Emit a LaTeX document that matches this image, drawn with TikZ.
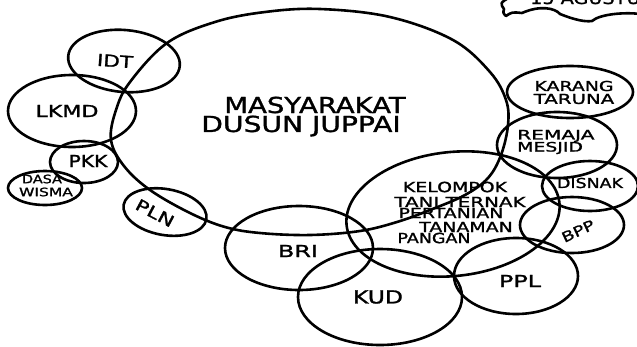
\documentclass[tikz,border=0pt]{standalone}
\usepackage{fontspec}
\setmainfont{DejaVu Sans}[FakeBold=1.3]
\usepackage{graphicx}
\newcommand\wide[2][1.35]{\scalebox{#1}[1]{#2}}

\begin{document}
\begin{tikzpicture}[x=1pt,y=-1pt,
  ring/.style={line width=2.6pt,line join=round,line cap=round},
  lab/.style={font=\fontsize{#1}{#1}\selectfont,inner sep=0pt},
  lab/.default=14]
\useasboundingbox (0,0) rectangle (637,346);
\clip (0,0) rectangle (637,346);
% centres of the rings
\coordinate (idt) at (124,61);
\coordinate (lkmd) at (72,111);
\coordinate (pkk) at (84,162);
\coordinate (dasa) at (45,188);
\coordinate (pln) at (165,212);
\coordinate (bri) at (299,248);
\coordinate (kud) at (380,297);
\coordinate (kel) at (453,214);
\coordinate (ppl) at (516,276);
\coordinate (bpp) at (572,225);
\coordinate (disnak) at (590,186);
\coordinate (remaja) at (557,145);
\coordinate (karang) at (570,92);
% the village
\draw[ring] plot[smooth cycle,tension=0.6] coordinates {
  (320,9) (390,17) (453,40) (490,72) (506,100) (508,125) (501,155)
  (488,178) (465,195) (430,210) (397,222) (360,231) (310,235) (260,233)
  (225,227) (190,213) (150,190) (124,166) (111,140) (116,110) (130,82)
  (167,43) (215,22) (265,12)};
% the groups round it
\draw[ring,rotate around={-5:(idt)}] (idt) ellipse [x radius=56pt,y radius=31pt];
\draw[ring] (lkmd) ellipse [x radius=64pt,y radius=36pt];
\draw[ring] (pkk) ellipse [x radius=34pt,y radius=21pt];
\draw[ring] (dasa) ellipse [x radius=37pt,y radius=17pt];
\draw[ring,rotate around={-10:(pln)}] (pln) ellipse [x radius=42pt,y radius=23pt];
\draw[ring] (bri) ellipse [x radius=74pt,y radius=42pt];
\draw[ring] (kud) ellipse [x radius=82pt,y radius=48pt];
\draw[ring,rotate around={6:(kel)}] (kel) ellipse [x radius=107pt,y radius=62pt];
\draw[ring] (ppl) ellipse [x radius=62pt,y radius=38pt];
\draw[ring] (bpp) ellipse [x radius=52pt,y radius=28pt];
\draw[ring] (disnak) ellipse [x radius=48pt,y radius=25pt];
\draw[ring] (remaja) ellipse [x radius=60pt,y radius=33pt];
\draw[ring] (karang) ellipse [x radius=63pt,y radius=26pt];
% callout at the top
\draw[ring] (510,-3) .. controls (500,3) .. (504,9) .. controls (503,13) .. (506,16)
  .. controls (512,12) .. (522,13) .. controls (540,5) and (555,8) .. (560,14)
  .. controls (575,20) and (585,22) .. (592,21) .. controls (600,14) and (625,12) .. (640,14);
\node[lab=16,anchor=base west] (date) at (530,4) {\wide[1.2]{15 AGUSTUS}};
% labels
\node[lab=22] (masy) at (315,105) {\wide[1.25]{MASYARAKAT}};
\node[lab=22] (dusun) at (301,126) {\wide[1.28]{DUSUN JUPPAI}};
\node[lab=16.5,rotate=-4] (tidt) at (115,61) {\wide[1.3]{IDT}};
\node[lab=16.5] (tlkmd) at (67,111) {\wide[1.34]{LKMD}};
\node[lab=16.5] (tpkk) at (88,161) {\wide[1.23]{PKK}};
\node[lab=11.5] (tdasa) at (42,179) {\wide[1.25]{DASA}};
\node[lab=11.5] (twisma) at (46,192) {\wide[1.35]{WISMA}};
\node[lab=16,rotate=-28] (tpln) at (155,213) {\wide{PLN}};
\node[lab=16.5] (tbri) at (298,251) {\wide[1.45]{BRI}};
\node[lab=18] (tkud) at (378,297) {\wide[1.3]{KUD}};
\node[lab] (tkel1) at (455,187) {\wide{KELOMPOK}};
\node[lab] (tkel2) at (460,202) {\wide[1.42]{TANI TERNAK}};
\node[lab] (tkel3) at (451,213) {\wide{PERTANIAN}};
\node[lab] (tkel4) at (466,227) {\wide{TANAMAN}};
\node[lab] (tkel5) at (434,238) {\wide[1.25]{PANGAN}};
\node[lab=16.5] (tppl) at (520,281) {\wide[1.45]{PPL}};
\node[lab,rotate=25] (tbpp) at (578,231) {\wide[1.3]{BPP}};
\node[lab=13.7] (tdisnak) at (590,183) {\wide[1.27]{DISNAK}};
\node[lab=13,anchor=west] (tremaja) at (517,136) {\wide[1.55]{REMAJA}};
\node[lab=13,anchor=west] (tmesjid) at (517,148) {\wide[1.45]{MESJID}};
\node[lab=13.7] (tkarang) at (574,86) {\wide[1.38]{KARANG}};
\node[lab=13.7] (ttaruna) at (574,99) {\wide[1.44]{TARUNA}};
\end{tikzpicture}
\end{document}
